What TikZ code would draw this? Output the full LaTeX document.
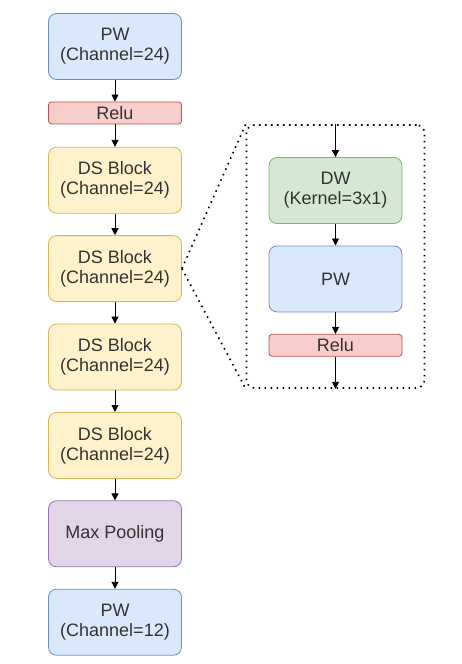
\documentclass[tikz,border=0pt]{standalone}
\usepackage{fontspec}
\setmainfont{Liberation Sans}
\usetikzlibrary{positioning,arrows.meta}
\definecolor{pwfill}{HTML}{DAE8FC}
\definecolor{pwdraw}{HTML}{6C8EBF}
\definecolor{relufill}{HTML}{F8CECC}
\definecolor{reludraw}{HTML}{B85450}
\definecolor{dsfill}{HTML}{FFF2CC}
\definecolor{dsdraw}{HTML}{D6B656}
\definecolor{dwfill}{HTML}{D5E8D4}
\definecolor{dwdraw}{HTML}{82B366}
\definecolor{poolfill}{HTML}{E1D5E7}
\definecolor{pooldraw}{HTML}{9673A6}
\definecolor{txtgray}{HTML}{333333}
\tikzset{
  % block styles
  % gebruik: \node[pwblock] (naam) {tekst};
  block/.style={draw,rounded corners=8pt,minimum width=133pt,minimum height=66pt,
    align=center,text=txtgray,font=\fontsize{18}{20}\selectfont,line width=0.8pt},
  pwblock/.style={block,draw=pwdraw,fill=pwfill},
  dsblock/.style={block,draw=dsdraw,fill=dsfill},
  dwblock/.style={block,draw=dwdraw,fill=dwfill},
  poolblock/.style={block,draw=pooldraw,fill=poolfill},
  relublock/.style={block,minimum height=22pt,inner ysep=0pt,rounded corners=3pt,
    draw=reludraw,fill=relufill},
  % connector styles
  flow/.style={-{Triangle[length=7pt,width=7pt]},line width=0.9pt},
  zoomline/.style={line width=1.6pt,dash pattern=on 1.6pt off 4.4pt},
}
\begin{document}
\begin{tikzpicture}[x=1pt,y=-1pt,node distance=21.6pt]
  \useasboundingbox (0,0) rectangle (462,664);
  % main chain
  \node[pwblock] (pw1) at (115,46.5) {PW\\(Channel=24)};
  \node[relublock, below=of pw1] (relu1) {Relu};
  \node[dsblock, below=22.5pt of relu1] (ds1) {DS Block\\(Channel=24)};
  \node[dsblock, below=of ds1] (ds2) {DS Block\\(Channel=24)};
  \node[dsblock, below=of ds2] (ds3) {DS Block\\(Channel=24)};
  \node[dsblock, below=of ds3] (ds4) {DS Block\\(Channel=24)};
  \node[poolblock, below=of ds4] (pool) {Max Pooling};
  \node[pwblock, below=of pool] (pw2) {PW\\(Channel=12)};
  \draw[flow] (pw1) -- (relu1);
  \draw[flow] (relu1) -- (ds1);
  \draw[flow] (ds1) -- (ds2);
  \draw[flow] (ds2) -- (ds3);
  \draw[flow] (ds3) -- (ds4);
  \draw[flow] (ds4) -- (pool);
  \draw[flow] (pool) -- (pw2);
  % inside of a DS block
  \node[zoomline, draw, rounded corners=8pt, minimum width=178pt, minimum height=263pt,
    inner sep=0pt] (detail) at (335.5,256.5) {};
  \node[dwblock] (dw) at (335.5,190.5) {DW\\(Kernel=3x1)};
  \node[pwblock, below=of dw] (pwin) {PW};
  \node[relublock, below=of pwin] (reluin) {Relu};
  \draw[flow] (detail.north) -- (dw);
  \draw[flow] (dw) -- (pwin);
  \draw[flow] (pwin) -- (reluin);
  \draw[flow] (reluin) -- (detail.south);
  \draw[zoomline] (ds2.east) -- (detail.north west);
  \draw[zoomline] (ds2.east) -- (detail.south west);
\end{tikzpicture}
\end{document}
